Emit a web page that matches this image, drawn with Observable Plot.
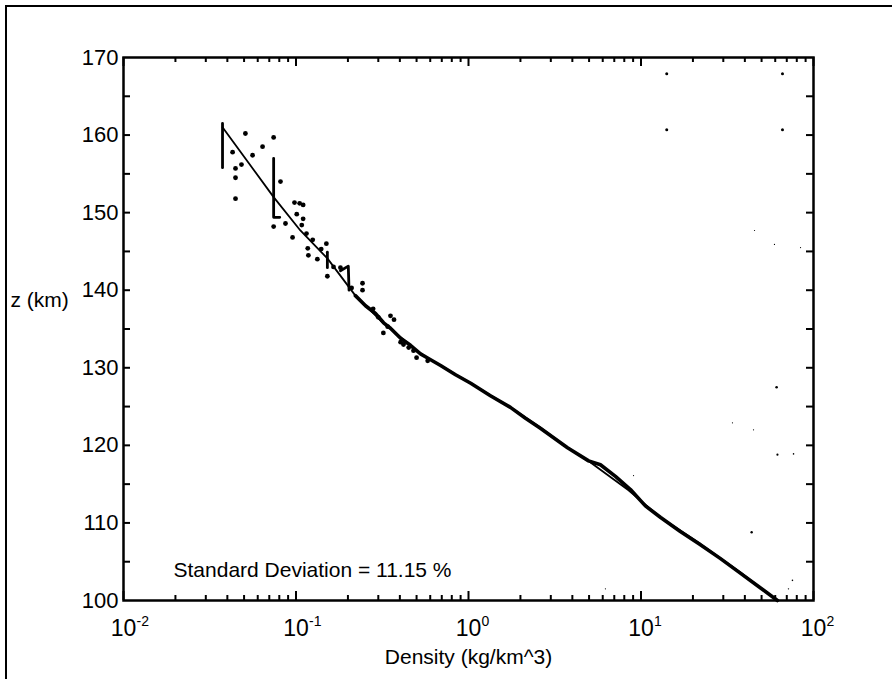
<!DOCTYPE html>
<html><head><meta charset="utf-8">
<script src="https://cdn.jsdelivr.net/npm/d3@7"></script>
<script src="https://cdn.jsdelivr.net/npm/@observablehq/plot@0.6"></script>
<style>
html,body{margin:0;padding:0;background:#fff;overflow:hidden;}
#wrap{position:relative;width:892px;height:679px;overflow:hidden;background:#fff;}
#border{position:absolute;left:5px;top:5px;width:920px;height:720px;border:2px solid #000;box-sizing:border-box;pointer-events:none;}
</style></head><body>
<div id="wrap"><div id="chart"></div><div id="border"></div></div>
<script>
// Model profile (thin line)
const modelRho = [0.0375,0.0742,0.106,0.152,0.221,0.309,0.527,0.689,1.03,1.75,2.61,3.75,5.10,8.47,13.0,22.1,37.8,61.8];
const modelZ   = [161.0,152.0,147.7,144.1,139.3,136.1,131.8,130.3,128.0,124.9,122.3,119.7,117.8,114.2,110.7,107.3,103.6,100.0];

// Measured profile (dense data forming the thick line)
const dataRho = [61.8,48.0,37.8,28.9,22.1,16.9,13.0,10.6,8.69,7.11,5.82,4.97,3.75,2.61,2.14,1.75,1.34,1.03,0.841,0.689,0.586,0.527,0.461,0.404,0.353,0.322,0.289,0.253,0.221];
const dataZ   = [100.0,101.8,103.5,105.4,107.2,108.9,110.7,112.2,114.3,116.0,117.5,118.0,119.7,122.2,123.5,124.9,126.4,128.0,129.1,130.3,131.2,131.8,132.9,133.8,135.1,135.8,137.0,138.0,139.3];

// Scattered measurements at high altitude
const scatterRho = [0.0509,0.0742,0.064,0.0429,0.056,0.0483,0.0446,0.0446,0.0446,0.0813,0.0742,0.0869,0.098,0.105,0.110,0.0955,0.110,0.115,0.117,0.118,0.133,0.150,0.152,0.181,0.243,0.243,0.353,0.37,0.321,0.404,0.48,0.50,0.58,0.101,0.108,0.125,0.140,0.165,0.210,0.28,0.30,0.34,0.42,0.45];
const scatterZ   = [160.2,159.7,158.5,157.8,157.4,156.2,155.7,154.5,151.8,154.0,148.2,148.6,151.3,151.2,151.0,146.8,149.2,147.3,145.4,144.5,144.0,146.0,141.8,142.9,140.9,140.0,136.7,136.2,134.5,133.3,132.2,131.3,130.9,149.8,148.4,146.5,145.3,143.0,140.3,137.6,136.5,135.3,133.0,132.6];

// Quantised steps in the measured profile
const stepId  = [0,0, 1,1,1, 2,2, 3,3,3];
const stepRho = [0.0375,0.0375, 0.0742,0.0742,0.0805, 0.152,0.152, 0.181,0.201,0.203];
const stepZ   = [155.8,161.5, 157.0,149.4,149.4, 142.9,144.9, 142.5,143.1,140.0];

// Isolated stray points
const strayRho = [14.1,66.1,14.1,66.1,61.1,43.8,61.8,76.6,33.9,44.9,9.05,6.22,75.5,71.6,45.5,59.4,84.1];
const strayZ   = [167.9,167.9,160.7,160.7,127.5,108.8,118.8,118.9,122.9,122.0,116.1,101.5,102.6,101.5,147.7,145.9,145.5];
const strayR   = [1.5,1.5,1.5,1.5,1.3,1.2,1.1,0.8,0.6,0.6,0.6,0.6,0.8,0.7,0.6,0.6,0.6];

// Axis ticks
const xTicks = [0.01,0.1,1,10,100];
const xExp = ["-2","-1","0","1","2"];
const xMinor = [0.02,0.03,0.04,0.05,0.06,0.07,0.08,0.09,0.2,0.3,0.4,0.5,0.6,0.7,0.8,0.9,2,3,4,5,6,7,8,9,20,30,40,50,60,70,80,90];
const yLabels = [100,110,120,130,140,150,160,170];
const yTicks = [105,110,115,120,125,130,135,140,145,150,155,160,165];

const model = modelRho.map((r,i)=>({rho:r, z:modelZ[i]}));
const data = dataRho.map((r,i)=>({rho:r, z:dataZ[i]}));
const scatter = scatterRho.map((r,i)=>({rho:r, z:scatterZ[i]}));
const steps = stepRho.map((r,i)=>({rho:r, z:stepZ[i], id:stepId[i]}));
const stray = strayRho.map((r,i)=>({rho:r, z:strayZ[i], r:strayR[i]}));

// inward tick helpers (lengths expressed through the scales)
const yMin = 100, yMax = 170, xMin = 0.01, xMax = 100;
const pxY = 70 / 543, pxLogX = 1 / 172.5;
const tickB = (vals, len) => Plot.ruleX(vals, {x: d=>d, y1: yMin, y2: yMin + len*pxY, strokeWidth: 2, stroke: "black"});
const tickT = (vals, len) => Plot.ruleX(vals, {x: d=>d, y1: yMax, y2: yMax - len*pxY, strokeWidth: 2, stroke: "black"});
const tickL = (vals, len) => Plot.ruleY(vals, {y: d=>d, x1: xMin, x2: xMin*Math.pow(10, len*pxLogX), strokeWidth: 2, stroke: "black"});
const tickR = (vals, len) => Plot.ruleY(vals, {y: d=>d, x1: xMax, x2: xMax/Math.pow(10, len*pxLogX), strokeWidth: 2, stroke: "black"});

const chart = Plot.plot({
  width: 892, height: 679,
  marginLeft: 123, marginRight: 79, marginTop: 57, marginBottom: 79,
  x: {type: "log", domain: [xMin, xMax], axis: null},
  y: {domain: [yMin, yMax], axis: null},
  r: {type: "identity"},
  style: {fontFamily: "'Liberation Sans', Arial, sans-serif", fontSize: "21px", color: "black", background: "white"},
  marks: [
    Plot.line(data, {x: "rho", y: "z", strokeWidth: 3.6, stroke: "black", strokeLinejoin: "round"}),
    Plot.line(model, {x: "rho", y: "z", strokeWidth: 1.8, stroke: "black", strokeLinejoin: "round"}),
    Plot.line(steps, {x: "rho", y: "z", z: "id", strokeWidth: 2.8, stroke: "black"}),
    Plot.dot(scatter, {x: "rho", y: "z", r: 2.4, fill: "black", stroke: null}),
    Plot.dot(stray, {x: "rho", y: "z", r: "r", fill: "black", stroke: null}),
    tickB(xTicks, 9), tickT(xTicks, 9), tickB(xMinor, 5), tickT(xMinor, 5),
    tickL(yTicks, 7), tickR(yTicks, 7),
    Plot.frame({stroke: "black", strokeWidth: 2.5}),
    Plot.text(yLabels, {y: d=>d, frameAnchor: "left", dx: -5, textAnchor: "end", text: d=>String(d), fontSize: 22}),
    Plot.text(xTicks, {x: d=>d, frameAnchor: "bottom", dy: 35, text: ()=>"10", fontSize: 23}),
    Plot.text(xTicks, {x: d=>d, frameAnchor: "bottom", dy: 25, dx: 13, textAnchor: "start", text: (d,i)=>xExp[i], fontSize: 14}),
    Plot.text(["Density (kg/km^3)"], {frameAnchor: "bottom", dy: 63, text: d=>d, fontSize: 21}),
    Plot.text(["z (km)"], {frameAnchor: "left", dx: -113, dy: -29, textAnchor: "start", text: d=>d, fontSize: 21}),
    Plot.text(["Standard Deviation = 11.15 %"], {frameAnchor: "bottom-left", dx: 50, dy: -24, textAnchor: "start", text: d=>d, fontSize: 21})
  ]
});
document.getElementById("chart").appendChild(chart);
</script>
</body></html>
